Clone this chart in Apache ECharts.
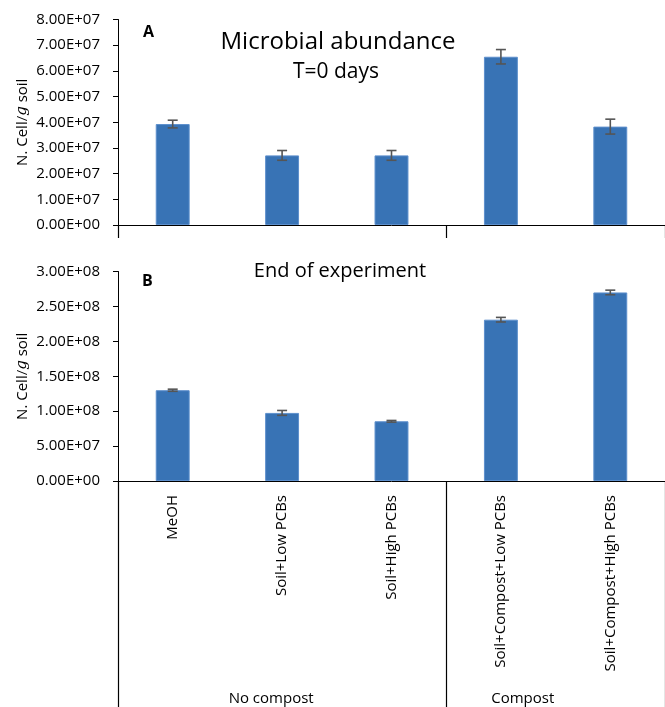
<!DOCTYPE html>
<html>
<head>
<meta charset="utf-8">
<script src="https://cdn.jsdelivr.net/npm/echarts@6/dist/echarts.min.js"></script>
<style>
  html, body { margin: 0; padding: 0; background: #fff; }
  #chart { width: 665px; height: 707px; }
</style>
</head>
<body>
<div id="chart"></div>
<script>
// Treatments (shared by both panels)
const categories = ['MeOH', 'Soil+Low PCBs', 'Soil+High PCBs', 'Soil+Compost+Low PCBs', 'Soil+Compost+High PCBs'];
const groupLabels = ['No compost', 'Compost'];
const groupBounds = [0, 3, 5];          // category boundaries between the two groups
const groupLabelAt = [1.4, 3.7];        // where the group names sit along the category span

// Panel A: T = 0 days
const abundanceT0 = [3.93e7, 2.71e7, 2.71e7, 6.55e7, 3.83e7];
const errorT0 = [0.15e7, 0.19e7, 0.19e7, 0.28e7, 0.29e7];

// Panel B: end of experiment
const abundanceEnd = [1.30e8, 0.975e8, 0.855e8, 2.31e8, 2.70e8];
const errorEnd = [0.15e7, 0.35e7, 0.12e7, 0.33e7, 0.33e7];

const BAR = '#3873B5';
const FONT = 'Open Sans';

function sci(v) {
  const parts = Number(v).toExponential(2).split('e');
  const exp = parseInt(parts[1], 10);
  const sign = exp < 0 ? '-' : '+';
  const e = String(Math.abs(exp)).padStart(2, '0');
  return parts[0] + 'E' + sign + e;
}

function errorData(vals, errs) {
  return vals.map((v, i) => [i, v - errs[i], v + errs[i]]);
}

function renderError(params, api) {
  const i = api.value(0);
  const lo = api.coord([i, api.value(1)]);
  const hi = api.coord([i, api.value(2)]);
  const cap = 5;
  const style = { stroke: '#555', lineWidth: 1.6, fill: null };
  return {
    type: 'group',
    children: [
      { type: 'line', shape: { x1: lo[0], y1: lo[1], x2: hi[0], y2: hi[1] }, style },
      { type: 'line', shape: { x1: hi[0] - cap, y1: hi[1], x2: hi[0] + cap, y2: hi[1] }, style },
      { type: 'line', shape: { x1: lo[0] - cap, y1: lo[1], x2: lo[0] + cap, y2: lo[1] }, style }
    ]
  };
}

const axisLineStyle = { show: true, lineStyle: { color: '#000', width: 1 } };
const yName = 'N. Cell/{g|g} soil';
const yNameStyle = {
  fontFamily: FONT, fontSize: 15, color: '#000',
  rich: { g: { fontFamily: 'DejaVu Serif', fontStyle: 'italic', fontSize: 15, color: '#000' } }
};

function yAxis(gridIndex, max, interval) {
  return {
    type: 'value', gridIndex, min: 0, max, interval,
    name: yName, nameLocation: 'middle', nameGap: 88, nameMoveOverlap: false,
    nameTextStyle: yNameStyle,
    axisLine: axisLineStyle,
    axisTick: { show: true, length: 5, lineStyle: { color: '#000' } },
    axisLabel: { formatter: sci, color: '#000', fontFamily: FONT, fontSize: 15, margin: 18 },
    splitLine: { show: false }
  };
}

function groupAxis(gridIndex, tickLen, showLabels) {
  return {
    type: 'value', gridIndex, position: 'bottom', min: 0, max: categories.length,
    axisLine: { show: false },
    splitLine: { show: false },
    axisTick: { show: true, customValues: groupBounds, length: tickLen, lineStyle: { color: '#000', width: 1.2 } },
    axisLabel: {
      show: showLabels, customValues: groupLabelAt, margin: 210,
      color: '#000', fontFamily: FONT, fontSize: 15,
      formatter: v => (v < groupBounds[1] ? groupLabels[0] : groupLabels[1])
    }
  };
}

const chart = echarts.init(document.getElementById('chart'), null, { renderer: 'canvas' });

chart.setOption({
  animation: false,
  backgroundColor: '#fff',
  grid: [
    { left: 118, top: 19.5, width: 547, height: 205.5 },
    { left: 118, top: 271.5, width: 547, height: 209.5 }
  ],
  title: [
    { text: 'Microbial abundance', left: 333, top: 25, textAlign: 'center',
      textStyle: { fontFamily: FONT, fontSize: 24, fontWeight: 'normal', color: '#000' } },
    { text: 'T=0 days', left: 331, top: 57, textAlign: 'center',
      textStyle: { fontFamily: FONT, fontSize: 21, fontWeight: 'normal', color: '#000' } },
    { text: 'End of experiment', left: 335, top: 256, textAlign: 'center',
      textStyle: { fontFamily: FONT, fontSize: 20, fontWeight: 'normal', color: '#000' } },
    { text: 'A', left: 138, top: 19,
      textStyle: { fontFamily: FONT, fontSize: 16, fontWeight: 'bold', color: '#000' } },
    { text: 'B', left: 137, top: 268,
      textStyle: { fontFamily: FONT, fontSize: 16, fontWeight: 'bold', color: '#000' } }
  ],
  xAxis: [
    { type: 'category', gridIndex: 0, data: categories,
      axisLine: axisLineStyle, axisTick: { show: false }, axisLabel: { show: false } },
    groupAxis(0, 13, false),
    { type: 'category', gridIndex: 1, data: categories,
      axisLine: axisLineStyle, axisTick: { show: false },
      axisLabel: { rotate: 90, margin: 14, interval: 0, color: '#000', fontFamily: FONT, fontSize: 15 } },
    groupAxis(1, 226, true)
  ],
  yAxis: [
    yAxis(0, 8e7, 1e7),
    yAxis(1, 3e8, 5e7)
  ],
  series: [
    { type: 'bar', xAxisIndex: 0, yAxisIndex: 0, data: abundanceT0, barWidth: '31%',
      itemStyle: { color: BAR, borderColor: '#5d8fcc', borderWidth: 1 } },
    { type: 'custom', xAxisIndex: 0, yAxisIndex: 0, data: errorData(abundanceT0, errorT0),
      renderItem: renderError, z: 5 },
    { type: 'bar', xAxisIndex: 2, yAxisIndex: 1, data: abundanceEnd, barWidth: '31%',
      itemStyle: { color: BAR, borderColor: '#5d8fcc', borderWidth: 1 } },
    { type: 'custom', xAxisIndex: 2, yAxisIndex: 1, data: errorData(abundanceEnd, errorEnd),
      renderItem: renderError, z: 5 }
  ]
});
</script>
</body>
</html>
